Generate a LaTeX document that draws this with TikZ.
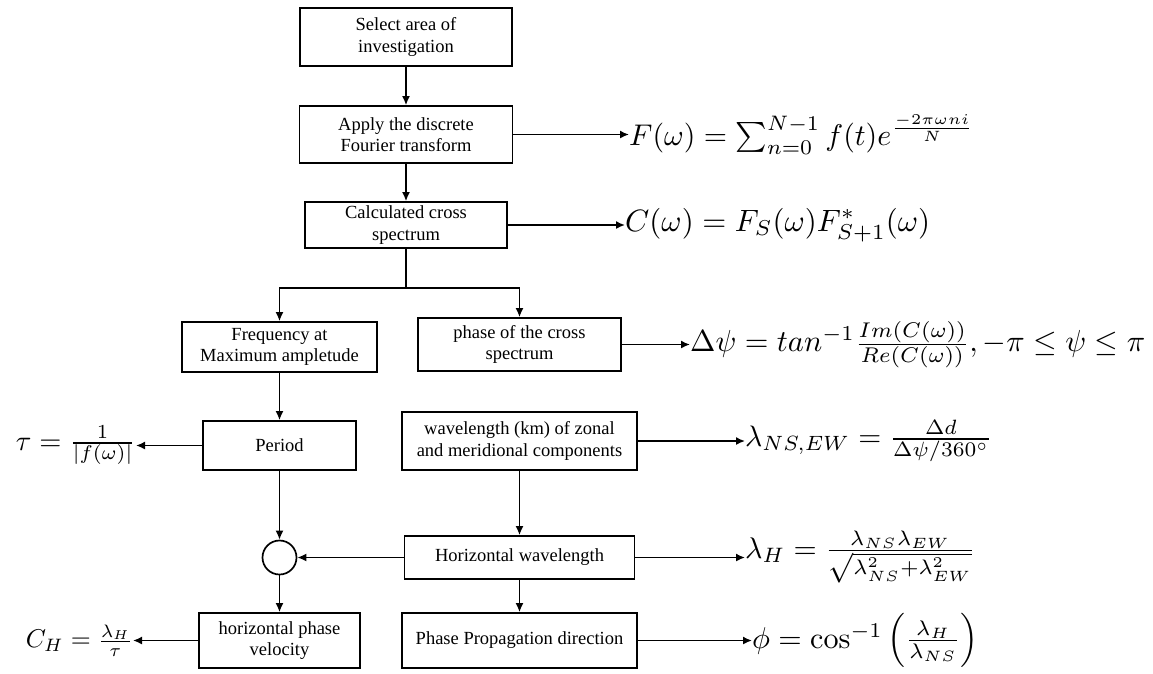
\documentclass[tikz,border=0pt]{standalone}
\usepackage[no-math]{fontspec}
\setmainfont{Liberation Serif}
\usepackage{amsmath}
\usetikzlibrary{arrows.meta}
\begin{document}
\begin{tikzpicture}[x=1pt,y=-1pt,
  box/.style={draw,line width=1.7pt,inner sep=0pt,align=center,font=\fontsize{18.5}{21.5}\selectfont},
  conn/.style={line width=1.6pt,-{Latex[length=9pt,width=8pt]}},
  plainline/.style={line width=1.6pt},
  eq/.style={inner sep=0pt}]
\useasboundingbox (0,0) rectangle (1153,673);
% boxes
\node[box,minimum width=212pt,minimum height=58pt] (b1) at (406,37) {Select area of\\investigation};
\node[box,minimum width=213pt,minimum height=57pt] (b2) at (406,134.5) {Apply the discrete\\Fourier transform};
\node[box,minimum width=202pt,minimum height=46pt] (b3) at (406,225) {Calculated cross\\spectrum};
\node[box,minimum width=195pt,minimum height=50pt] (freq) at (279.5,347) {Frequency at\\Maximum ampletude};
\node[box,minimum width=203pt,minimum height=53pt] (phase) at (519.5,344.5) {phase of the cross\\spectrum};
\node[box,minimum width=153pt,minimum height=49pt] (period) at (279.5,445.5) {Period};
\node[box,minimum width=235pt,minimum height=58pt] (wl) at (519.5,441) {wavelength (km) of zonal\\and meridional components};
\node[draw,circle,line width=1.7pt,minimum size=34pt,inner sep=0pt] (circ) at (279.5,557.5) {};
\node[box,minimum width=230pt,minimum height=43pt] (hw) at (519.5,557.5) {Horizontal wavelength};
\node[box,minimum width=161pt,minimum height=55pt] (hpv) at (279.5,640.5) {horizontal phase\\velocity};
\node[box,minimum width=235pt,minimum height=55pt] (ppd) at (519.5,640.5) {Phase Propagation direction};
% formulas
\node[eq,anchor=west] (fF) at (629,134.5) {\resizebox{345pt}{!}{$F(\omega)=\sum_{n=0}^{N-1} f(t)e^{\frac{-2\pi\omega n i}{N}}$}};
\node[eq,anchor=west] (fC) at (625,225) {\resizebox{305pt}{!}{$C(\omega)=F_S(\omega)F^{*}_{S+1}(\omega)$}};
\node[eq,anchor=west] (fPsi) at (690,344.5) {\resizebox{455pt}{!}{$\Delta\psi=tan^{-1}\frac{Im(C(\omega))}{Re(C(\omega))},-\pi\leq\psi\leq\pi$}};
\node[eq,anchor=west] (fNS) at (745,441) {\resizebox{247pt}{!}{$\lambda_{NS,EW}=\frac{\Delta d}{\Delta\psi/360^\circ}$}};
\node[eq,anchor=west] (fH) at (745,557.5) {\resizebox{230pt}{!}{$\lambda_H=\frac{\lambda_{NS}\lambda_{EW}}{\sqrt{\lambda_{NS}^2+\lambda_{EW}^2}}$}};
\node[eq,anchor=west] (fPhi) at (752,640.5) {\resizebox{226pt}{!}{$\phi=\cos^{-1}\left(\frac{\lambda_H}{\lambda_{NS}}\right)$}};
\node[eq,anchor=east] (fTau) at (136,445.5) {\resizebox{120pt}{!}{$\tau=\frac{1}{|f(\omega)|}$}};
\node[eq,anchor=east] (fCH) at (133,640.5) {\resizebox{107pt}{!}{$C_H=\frac{\lambda_H}{\tau}$}};
% connectors
\coordinate (split) at (406,288);
\draw[conn] (b1) -- (b2);
\draw[conn] (b2) -- (b3);
\draw[plainline] (b3.south) -- (split);
\draw[conn] (split) -| (freq.north);
\draw[conn] (split) -| (phase.north);
\draw[conn] (freq) -- (period);
\draw[conn] (period) -- (circ);
\draw[conn] (circ) -- (hpv);
\draw[conn] (wl) -- (hw);
\draw[conn] (hw) -- (ppd);
\draw[conn] (hw) -- (circ);
\draw[conn] (b2.east) -- (b2.east -| fF.west);
\draw[conn] (b3.east) -- (b3.east -| fC.west);
\draw[conn] (phase.east) -- (phase.east -| fPsi.west);
\draw[conn] (wl.east) -- (wl.east -| fNS.west);
\draw[conn] (hw.east) -- (hw.east -| fH.west);
\draw[conn] (ppd.east) -- (ppd.east -| fPhi.west);
\draw[conn] (period.west) -- (period.west -| fTau.east);
\draw[conn] (hpv.west) -- (hpv.west -| fCH.east);
\end{tikzpicture}
\end{document}
